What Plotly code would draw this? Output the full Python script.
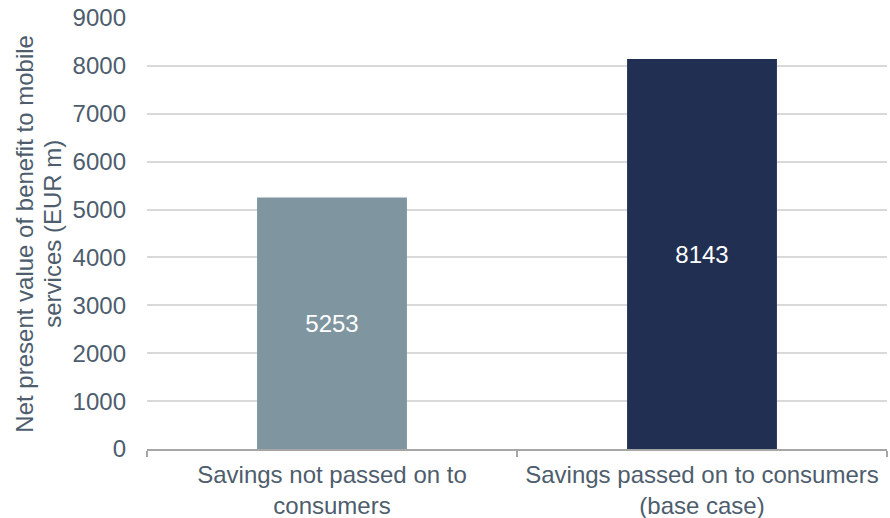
import plotly.graph_objects as go

# Scenario categories and their net present value of benefit (EUR m)
categories = ["Savings not passed on to<br>consumers", "Savings passed on to consumers<br>(base case)"]
values = [5253, 8143]
bar_colors = ["#7f96a0", "#212f52"]
y_ticks = [0, 1000, 2000, 3000, 4000, 5000, 6000, 7000, 8000, 9000]
y_title_lines = ["Net present value of benefit to mobile", "services (EUR m)"]

text_color = "#4d5d6d"
font_family = "Liberation Sans, Arial, sans-serif"
font_size = 24

fig = go.Figure(
    go.Bar(
        x=categories,
        y=values,
        marker=dict(color=bar_colors, line=dict(width=0)),
        width=0.405,
        text=[str(v) for v in values],
        textposition="inside",
        insidetextanchor="middle",
        textfont=dict(color="white", size=font_size, family=font_family),
        textangle=0,
    )
)

fig.update_layout(
    width=890,
    height=518,
    margin=dict(l=147, r=3, t=18, b=69),
    paper_bgcolor="white",
    plot_bgcolor="white",
    font=dict(family=font_family, size=font_size, color=text_color),
    showlegend=False,
)

fig.update_xaxes(
    type="category",
    automargin=False,
    showline=True,
    linecolor="#a6a6a6",
    linewidth=1.5,
    ticks="outside",
    tickson="boundaries",
    ticklen=6,
    tickcolor="#a6a6a6",
    tickwidth=1.5,
    ticklabelstandoff=3,
    tickfont=dict(size=font_size, color=text_color),
    showgrid=False,
)

fig.update_yaxes(
    range=[0, 9000],
    automargin=False,
    tickvals=y_ticks,
    showgrid=True,
    gridcolor="#d9d9d9",
    gridwidth=1.5,
    zeroline=False,
    showline=False,
    ticklabelstandoff=20,
    tickfont=dict(size=font_size, color=text_color),
)

# Two-line rotated y-axis title, set with tighter line spacing
for line, xpos in zip(y_title_lines, [-0.166, -0.128]):
    fig.add_annotation(
        text=line,
        xref="paper",
        yref="paper",
        x=xpos,
        y=0.5,
        xanchor="center",
        yanchor="middle",
        textangle=-90,
        showarrow=False,
        font=dict(size=font_size, color=text_color, family=font_family),
    )

fig.write_html("out.html")
